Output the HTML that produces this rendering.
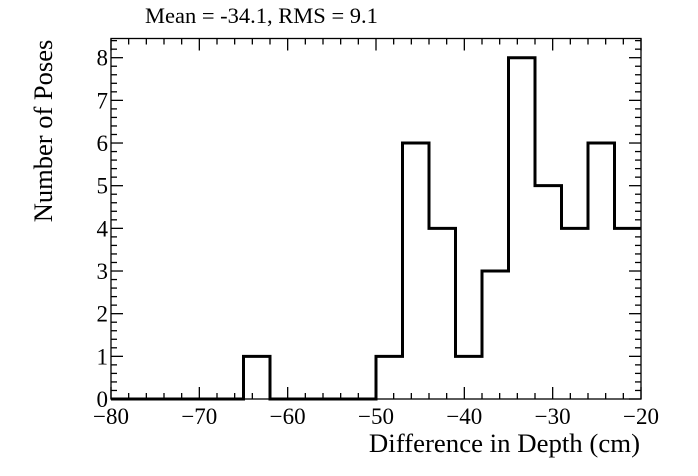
<!DOCTYPE html>
<html><head><meta charset="utf-8"><style>
body{margin:0;background:#fff;}
svg{display:block;font-family:"Liberation Serif",serif;}
</style></head><body>
<svg id="chart" width="698" height="476" xmlns="http://www.w3.org/2000/svg">
<text x="145" y="23" font-size="22.5">Mean = -34.1, RMS = 9.1</text>
<g id="axes"></g>
<path id="hist" fill="none" stroke="#000" stroke-width="3"></path>
<text x="640" y="452" font-size="26.8" text-anchor="end">Difference in Depth (cm)</text>
<text transform="translate(52,131) rotate(-90)" font-size="26.5" text-anchor="middle">Number of Poses</text>
</svg>
<script>
const binEdgesStart = -80;
const binWidth = 3;
const counts = [0,0,0,0,0,1,0,0,0,0,1,6,4,1,3,8,5,4,6,4];
const xTicks = [-80,-70,-60,-50,-40,-30,-20];
const yTicks = [0,1,2,3,4,5,6,7,8];

const L=111,R=641,T=38.5,B=399;
const xMin=-80,xMax=-20,yMax=8.45;
const xs=v=>L+(v-xMin)/(xMax-xMin)*(R-L);
const ys=v=>B-v/yMax*(B-T);
const NS="http://www.w3.org/2000/svg";
const axes=document.getElementById('axes');
function line(x1,y1,x2,y2,name){
  const l=document.createElementNS(NS,'line');
  l.setAttribute('x1',x1);l.setAttribute('y1',y1);l.setAttribute('x2',x2);l.setAttribute('y2',y2);
  l.setAttribute('stroke','#000');l.setAttribute('stroke-width','1.3');
  
  
  axes.appendChild(l);
}
function text(x,y,s,anchor,name){
  const t=document.createElementNS(NS,'text');
  t.setAttribute('x',x);t.setAttribute('y',y);t.setAttribute('font-size','23');t.setAttribute('text-anchor',anchor);
  t.textContent=s;
  
  
  axes.appendChild(t);
}
const fr=document.createElementNS(NS,'rect');
fr.setAttribute('x',L);fr.setAttribute('y',T);fr.setAttribute('width',R-L);fr.setAttribute('height',B-T);
fr.setAttribute('fill','none');fr.setAttribute('stroke','#000');fr.setAttribute('stroke-width','1.3');


axes.appendChild(fr);
for(let v=xMin;v<=xMax+1e-9;v+=2){
  const major=Math.abs(v%10)<1e-9, len=major?12:6, x=xs(v);
  line(x,B,x,B-len,'x-tick');line(x,T,x,T+len,'x-tick-top');
}
for(let i=0;i*0.2<=yMax;i++){
  const v=i*0.2, major=i%5===0, len=major?12:6, y=ys(v);
  line(L,y,L+len,y,'y-tick');line(R,y,R-len,y,'y-tick-right');
}
xTicks.forEach(v=>text(xs(v),424,v<0?'\u2212'+(-v):String(v),'middle','x-tick-label'));
yTicks.forEach(v=>text(L-3,ys(v)+8,String(v),'end','y-tick-label'));
let d='M'+xs(binEdgesStart)+','+ys(counts[0]);
counts.forEach((c,i)=>{
  const x0=xs(binEdgesStart+i*binWidth),x1=xs(binEdgesStart+(i+1)*binWidth);
  d+=' L'+x0+','+ys(c)+' L'+x1+','+ys(c);
});
document.getElementById('hist').setAttribute('d',d);
</script>
</body></html>
